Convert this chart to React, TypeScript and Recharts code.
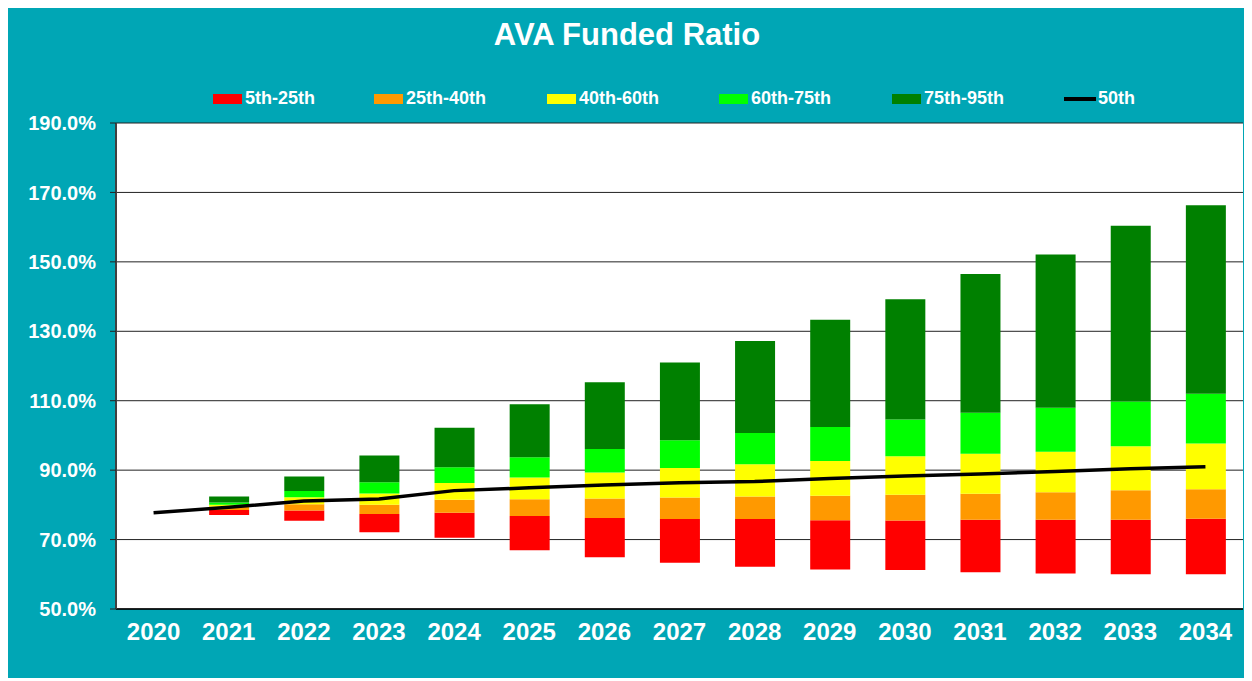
import { ComposedChart, Bar, Line, XAxis, YAxis, CartesianGrid } from 'recharts'

const years = ['2020', '2021', '2022', '2023', '2024', '2025', '2026', '2027', '2028', '2029', '2030', '2031', '2032', '2033', '2034']

// percentile values (funded ratio, %)
const p5 = [null, 77.1, 75.4, 72.1, 70.5, 66.9, 64.9, 63.3, 62.2, 61.4, 61.2, 60.6, 60.2, 60.0, 60.0]
const p25 = [null, 78.5, 78.4, 77.4, 77.7, 76.8, 76.2, 75.9, 75.9, 75.6, 75.5, 75.7, 75.7, 75.7, 76.0]
const p40 = [null, 79.5, 80.2, 80.0, 81.5, 81.6, 81.8, 82.1, 82.4, 82.6, 82.9, 83.2, 83.6, 84.2, 84.5]
const p60 = [null, 80.0, 82.2, 83.3, 86.3, 87.9, 89.3, 90.6, 91.7, 92.6, 94.0, 94.7, 95.3, 96.9, 97.7]
const p75 = [null, 80.7, 84.0, 86.5, 90.8, 93.7, 96.1, 98.6, 100.7, 102.4, 104.6, 106.5, 108.0, 109.8, 112.0]
const p95 = [null, 82.4, 88.2, 94.2, 102.2, 109.0, 115.3, 121.0, 127.2, 133.3, 139.2, 146.5, 152.1, 160.4, 166.3]
const p50 = [77.7, 79.3, 81.1, 81.7, 84.1, 84.9, 85.7, 86.4, 86.7, 87.6, 88.3, 88.9, 89.6, 90.4, 91.0]

const yTicks = [50, 70, 90, 110, 130, 150, 170, 190]

const bands = [
  { key: 'b1', name: '5th-25th', color: '#FF0000' },
  { key: 'b2', name: '25th-40th', color: '#FF9900' },
  { key: 'b3', name: '40th-60th', color: '#FFFF00' },
  { key: 'b4', name: '60th-75th', color: '#00FF00' },
  { key: 'b5', name: '75th-95th', color: '#008000' },
]

const diff = (hi: number | null, lo: number | null) => (hi == null || lo == null ? null : +(hi - lo).toFixed(2))

const chartData = years.map((year, i) => ({
  year,
  base: p5[i],
  b1: diff(p25[i], p5[i]),
  b2: diff(p40[i], p25[i]),
  b3: diff(p60[i], p40[i]),
  b4: diff(p75[i], p60[i]),
  b5: diff(p95[i], p75[i]),
  median: p50[i],
}))

const TEAL = '#00A6B5'
const FONT = 'Arial, "Liberation Sans", sans-serif'

const legendWidths = [161, 173, 172, 173, 172]

const ChartLegend = () => (
  <div style={{ position: 'absolute', top: 83, left: 206, display: 'flex', alignItems: 'center', color: '#fff', fontWeight: 'bold', fontSize: 18 }}>
    {bands.map((b, i) => (
      <div key={b.key} style={{ width: legendWidths[i], display: 'flex', alignItems: 'center' }}>
        <span style={{ display: 'inline-block', width: 29, height: 10, background: b.color, marginRight: 3 }} />
        <span>{b.name}</span>
      </div>
    ))}
    <div style={{ display: 'flex', alignItems: 'center' }}>
      <span style={{ display: 'inline-block', width: 32, height: 4, background: '#000', marginRight: 2 }} />
      <span>50th</span>
    </div>
  </div>
)

export default function App() {
  return (
    <div style={{ position: 'relative', width: 1240, height: 673, background: TEAL, margin: '-3px 0 0 -1px', fontFamily: FONT }}>
      <div style={{ position: 'absolute', top: 12, left: 0, width: 1240, textAlign: 'center', color: '#fff', fontWeight: 'bold', fontSize: 31 }}>
        AVA Funded Ratio
      </div>
      <ChartLegend />
      <div style={{ position: 'absolute', top: 0, left: 0 }}>
        <ComposedChart width={1240} height={673} data={chartData} margin={{ top: 118, right: 4, bottom: 29, left: 9 }} barSize={40}>
          <CartesianGrid vertical={false} stroke="#222" fill="#fff" />
          <XAxis
            dataKey="year"
            height={40}
            axisLine={{ stroke: '#000', strokeWidth: 1.5 }}
            tickLine={false}
            tickSize={0}
            tickMargin={14}
            tick={{ fill: '#fff', fontSize: 24, fontWeight: 'bold', fontFamily: FONT }}
          />
          <YAxis
            width={100}
            domain={[50, 190]}
            ticks={yTicks}
            allowDataOverflow
            axisLine={{ stroke: '#404040', strokeWidth: 2 }}
            tickLine={{ stroke: '#222' }}
            tickSize={6}
            tickMargin={14}
            tickFormatter={(v: number) => `${v.toFixed(1)}%`}
            tick={{ fill: '#fff', fontSize: 20, fontWeight: 'bold', fontFamily: FONT }}
          />
          <YAxis yAxisId="right" orientation="right" width={0} domain={[50, 190]} tick={false} tickLine={false} axisLine={{ stroke: '#888', strokeWidth: 2 }} />
          <Bar dataKey="base" stackId="a" fill="transparent" isAnimationActive={false} />
          {bands.map(b => (
            <Bar key={b.key} dataKey={b.key} name={b.name} stackId="a" fill={b.color} isAnimationActive={false} />
          ))}
          <Line dataKey="median" name="50th" type="linear" stroke="#000" strokeWidth={3.5} dot={false} isAnimationActive={false} />
        </ComposedChart>
      </div>
    </div>
  )
}
